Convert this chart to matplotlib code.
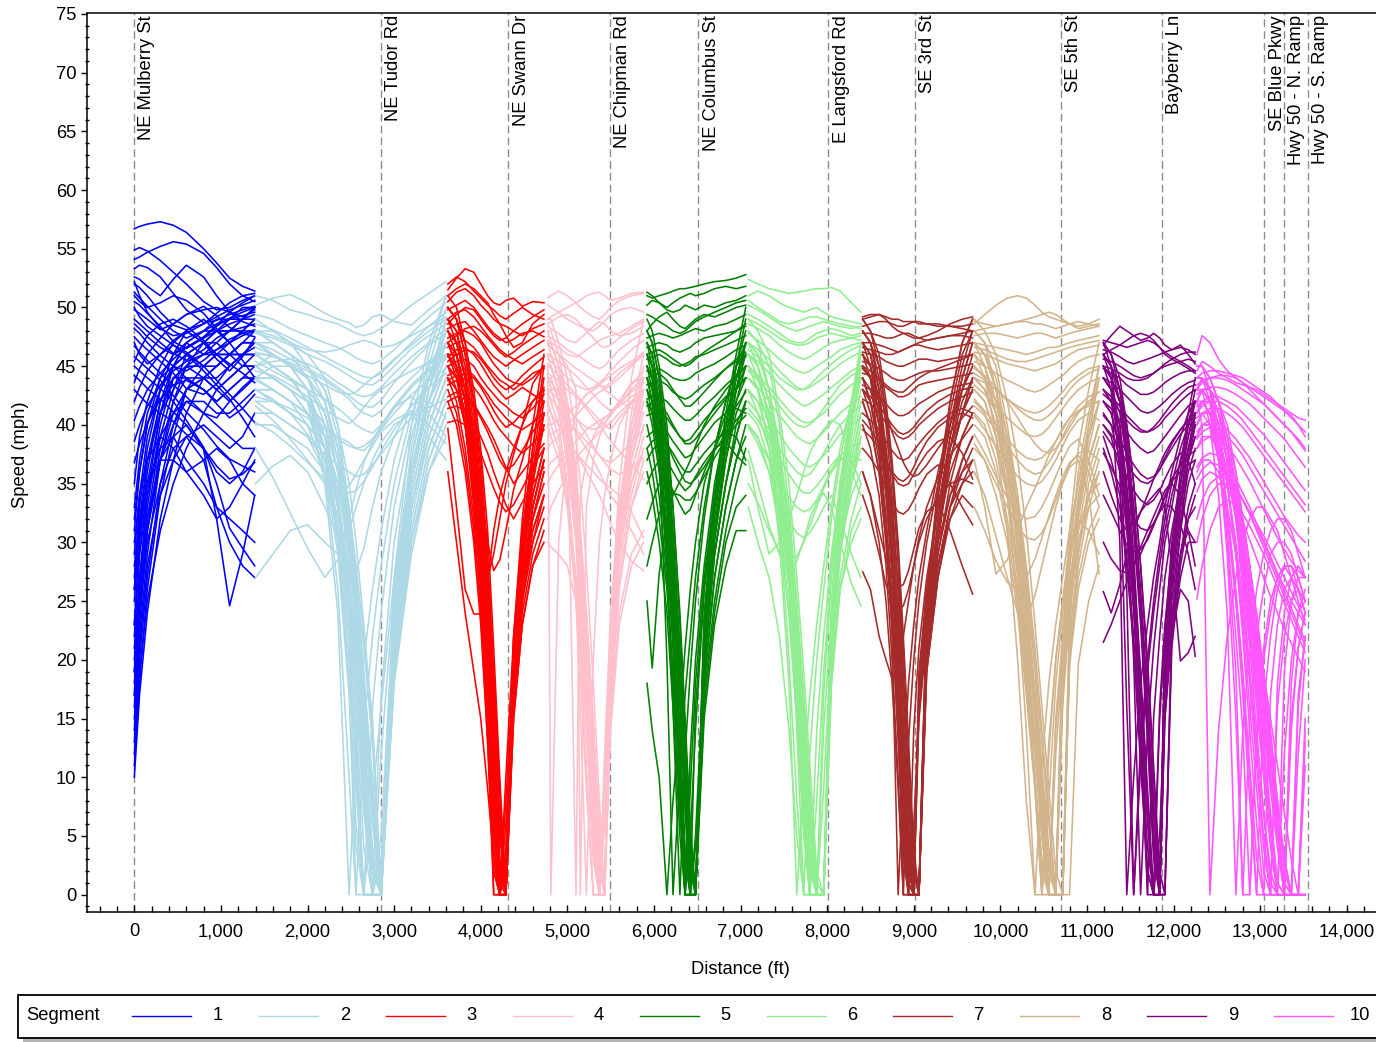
"""Speed profiles along the corridor, one colour per segment"""

import numpy as np
import matplotlib
matplotlib.use("Agg")
from matplotlib import pyplot as plt
from matplotlib.ticker import MultipleLocator, StrMethodFormatter
from matplotlib.lines import Line2D
from matplotlib.patches import Rectangle

plt.rcParams["font.family"] = ["Liberation Sans", "DejaVu Sans"]

# cross streets (ft)
streets = ["NE Mulberry St", "NE Tudor Rd", "NE Swann Dr", "NE Chipman Rd",
           "NE Columbus St", "E Langsford Rd", "SE 3rd St", "SE 5th St",
           "Bayberry Ln", "SE Blue Pkwy", "Hwy 50 - N. Ramp", "Hwy 50 - S. Ramp"]
street_ft = [0, 2845, 4319, 5493, 6513, 8014, 9015, 10697, 11865, 13050, 13270, 13555]

seg_labels = ["1", "2", "3", "4", "5", "6", "7", "8", "9", "10"]
seg_colors = ["#0000ff", "#add8e6", "#ff0000", "#ffc0cb", "#008000",
              "#90ee90", "#a52a2a", "#d2b48c", "#800080", "#ff55ff"]

# segment 1
seg1_ft = [0, 60, 150, 300, 450, 600, 800, 950, 1100, 1250, 1390]
seg1_mph = [
    [10, 17, 24, 32, 37, 41, 44, 45, 46, 46, 47],
    [11, 18, 26, 34, 39, 43, 45, 46, 47, 48, 48],
    [13, 20, 27, 35, 40, 43, 44, 44, 45, 46, 46],
    [14, 22, 29, 37, 42, 45, 47, 48, 49, 49, 50],
    [16, 23, 31, 38, 42, 44, 44, 43, 44, 45, 45],
    [17, 25, 32, 39, 43, 46, 47, 47, 46, 47, 48],
    [19, 26, 33, 40, 44, 45, 44, 43, 42, 43, 44],
    [20, 27, 34, 41, 45, 47, 48, 49, 49, 50, 50],
    [22, 29, 35, 41, 44, 45, 45, 46, 46, 45, 46],
    [23, 30, 36, 42, 45, 47, 48, 48, 47, 48, 49],
    [25, 31, 37, 42, 44, 44, 43, 42, 43, 44, 45],
    [27, 33, 38, 43, 46, 48, 49, 48, 48, 49, 49],
    [29, 34, 39, 43, 45, 46, 45, 45, 46, 47, 47],
    [31, 36, 40, 44, 46, 47, 46, 47, 48, 48, 49],
    [33, 37, 41, 44, 45, 44, 43, 42, 43, 44, 44],
    [35, 39, 42, 45, 47, 48, 47, 46, 45, 46, 47],
    [15, 21, 28, 34, 37, 39, 40, 39, 38, 39, 41],
    [21, 27, 32, 37, 39, 40, 38, 36, 35, 36, 38],
    [26, 31, 35, 38, 39, 37, 35, 33, 32, 31, 30],
    [30, 34, 37, 39, 38, 36, 37, 38, 37, 35, 34],
    [18, 24, 30, 35, 38, 39, 37, 33, 30, 28, 27],
    [12, 19, 25, 31, 35, 38, 41, 43, 44, 45, 45],
    [17, 24, 31, 37, 40, 42, 42, 41, 41, 42, 43],
    [23, 29, 34, 39, 41, 42, 41, 40, 39, 38, 38],
    [19, 25, 31, 37, 41, 43, 44, 45, 46, 47, 47],
    [26, 32, 37, 41, 43, 45, 46, 46, 46, 46, 46],
    [32, 36, 40, 43, 45, 46, 47, 48, 48, 49, 50],
    [28, 32, 35, 37, 37, 36, 34, 32, 33, 35, 37],
    [56.7, 56.9, 57.1, 57.3, 57.0, 56.4, 55.0, 53.8, 52.5, 51.8, 51.4],
    [54.9, 55.1, 54.8, 54.0, 53.0, 52.0, 50.5, 49.8, 50.0, 50.6, 51.0],
    [54.1, 54.3, 54.7, 55.2, 55.6, 55.4, 54.6, 53.4, 52.0, 51.0, 50.5],
    [53.3, 53.6, 53.4, 52.6, 51.2, 49.8, 48.7, 48.9, 49.4, 49.8, 50.1],
    [52.6, 52.4, 51.8, 51.0, 52.4, 53.6, 52.6, 51.0, 49.6, 48.8, 48.4],
    [52.0, 51.7, 51.0, 49.6, 48.5, 48.1, 48.6, 49.5, 50.4, 51.0, 51.2],
    [51.3, 50.8, 50.1, 49.0, 48.0, 47.4, 48.0, 48.6, 49.0, 49.3, 49.6],
    [50.5, 50.2, 49.5, 48.4, 47.1, 46.5, 47.4, 48.4, 49.1, 49.6, 50.0],
    [49.8, 49.5, 49.0, 48.1, 48.6, 49.4, 50.1, 49.3, 48.3, 47.8, 47.5],
    [49.0, 48.6, 48.0, 47.0, 46.1, 45.5, 46.4, 47.4, 48.0, 48.3, 48.6],
    [48.2, 47.8, 47.0, 45.9, 45.0, 44.6, 45.5, 46.4, 47.3, 47.8, 48.1],
    [47.5, 47.0, 46.4, 45.4, 44.4, 43.1, 42.6, 43.5, 45.0, 46.0, 46.6],
    [46.7, 46.2, 45.5, 44.4, 43.4, 42.4, 41.0, 40.6, 42.0, 43.2, 44.1],
    [45.8, 45.4, 44.8, 43.8, 42.5, 41.1, 39.6, 38.2, 37.1, 36.5, 36.0],
    [45.0, 44.6, 44.0, 43.1, 42.0, 40.4, 38.1, 35.0, 31.2, 29.5, 28.0],
    [44.2, 43.8, 43.1, 42.2, 41.1, 40.0, 37.9, 32.0, 24.6, 29.0, 34.0],
    [43.0, 42.5, 41.8, 41.0, 40.3, 39.2, 38.0, 36.5, 35.4, 35.8, 36.8],
    [51.0, 50.5, 50.0, 50.4, 51.0, 50.6, 49.5, 48.2, 47.0, 45.5, 44.0],
    [48.6, 48.2, 47.5, 46.6, 46.0, 46.6, 47.5, 48.5, 49.6, 50.4, 51.0],
    [47.0, 46.0, 45.2, 46.0, 47.2, 48.0, 47.0, 45.6, 44.6, 45.8, 47.4],
    [45.4, 46.4, 47.6, 48.6, 49.0, 48.4, 47.2, 46.0, 45.2, 44.4, 43.6],
    [43.6, 44.8, 46.0, 47.4, 48.6, 49.4, 49.8, 50.0, 49.6, 49.2, 49.8],
    [42.0, 43.2, 44.6, 46.0, 46.8, 46.2, 45.0, 43.8, 42.6, 41.4, 40.2],
    [40.4, 41.6, 43.0, 44.4, 45.6, 46.6, 47.4, 48.0, 48.6, 49.0, 49.4],
    [38.6, 40.0, 41.6, 43.4, 44.6, 45.4, 46.0, 46.4, 47.0, 47.6, 48.0],
    [36.8, 38.4, 40.2, 42.2, 43.4, 43.8, 43.0, 41.8, 40.6, 41.4, 42.6],
    [50.0, 49.2, 48.4, 47.6, 46.8, 46.0, 44.6, 43.4, 42.2, 40.6, 39.0],
    [52.2, 51.0, 49.6, 48.2, 47.6, 47.8, 48.6, 49.2, 49.8, 50.2, 50.6],
]

# segment 2
seg2_ft = [1400, 1600, 1800, 2000, 2200, 2350, 2480, 2560, 2650, 2750, 2850, 3000, 3200, 3400, 3600]
seg2_mph = [
    [51.0, 50.6, 49.8, 49.4, 48.9, 48.6, 48.1, 47.8, 47.6, 47.8, 48.2, 49.0, 50.2, 51.2, 52.2],
    [50.2, 50.8, 51.1, 50.4, 49.5, 49.0, 48.7, 48.3, 48.5, 49.2, 49.4, 48.8, 48.5, 49.8, 51.0],
    [49.4, 49.0, 48.2, 47.6, 47.0, 46.6, 46.1, 45.7, 45.4, 45.2, 45.5, 46.4, 47.8, 49.2, 50.4],
    [48.6, 48.1, 47.4, 46.6, 45.8, 45.2, 44.7, 44.4, 44.1, 44.0, 44.4, 45.5, 47.0, 48.4, 49.6],
    [47.8, 47.4, 46.8, 46.0, 45.4, 44.8, 44.2, 43.8, 43.5, 43.4, 43.9, 45.0, 46.5, 47.6, 48.6],
    [47.0, 46.4, 45.6, 44.8, 44.0, 43.2, 42.5, 42.0, 41.6, 41.5, 42.1, 43.6, 45.3, 46.8, 47.8],
    [46.2, 45.8, 45.3, 44.6, 43.8, 43.0, 42.2, 41.5, 41.0, 40.7, 41.2, 42.5, 44.0, 45.4, 46.6],
    [45.4, 44.6, 43.8, 43.0, 42.2, 41.4, 40.6, 40.0, 39.6, 39.3, 40.0, 41.6, 43.4, 44.8, 45.6],
    [44.6, 44.2, 43.4, 42.4, 41.3, 40.6, 40.1, 40.6, 41.5, 42.4, 43.0, 43.8, 44.6, 45.3, 46.0],
    [43.8, 43.0, 42.0, 40.9, 39.8, 39.0, 38.5, 38.0, 37.8, 38.6, 39.6, 41.0, 42.6, 43.8, 44.8],
    [43.0, 42.2, 41.0, 39.2, 37.5, 36.6, 36.0, 35.6, 35.8, 36.6, 37.5, 39.0, 40.6, 41.5, 42.2],
    [41.6, 40.4, 38.8, 37.0, 35.0, 34.2, 34.8, 35.8, 37.0, 38.2, 39.4, 40.4, 41.2, 40.0, 38.4],
    [38.0, 35.5, 32.5, 29.5, 27.0, 28.5, 32.0, 34.5, 36.8, 38.5, 40.0, 41.5, 42.4, 41.0, 39.0],
    [27.0, 29.0, 31.0, 31.5, 30.0, 29.0, 31.0, 33.0, 35.0, 37.0, 38.5, 40.0, 41.0, 39.0, 37.0],
    [35.0, 36.5, 37.4, 36.0, 33.0, 30.5, 28.0, 27.5, 29.5, 33.0, 36.0, 39.0, 41.8, 42.0, 40.6],
    [48.0, 47.6, 47.0, 46.4, 46.2, 46.4, 46.8, 47.0, 47.2, 47.0, 46.6, 46.8, 47.6, 48.4, 49.2],
    [46.6, 46.0, 45.2, 44.2, 43.4, 42.8, 42.6, 42.8, 43.4, 44.0, 44.6, 45.6, 46.8, 48.0, 49.0],
    [45.0, 45.4, 45.6, 45.2, 44.4, 43.6, 43.0, 42.6, 42.4, 42.6, 43.2, 44.4, 45.8, 47.0, 48.2],
    [42.4, 42.0, 41.4, 40.6, 39.6, 38.8, 38.2, 38.0, 38.2, 38.8, 39.8, 41.4, 43.2, 44.6, 45.8],
    [40.2, 39.4, 38.2, 36.8, 35.4, 34.6, 34.2, 34.4, 35.2, 36.4, 37.8, 39.6, 41.6, 43.2, 44.4],
    [46, 45, 44, 42, 35, 24, 0, 12, 20, 26, 31, 37, 42, 45, 47],
    [44, 44, 43, 41, 37, 30, 18, 0, 14, 22, 28, 35, 41, 44, 46],
    [45, 46, 45, 43, 39, 33, 24, 14, 0, 16, 24, 33, 40, 44, 47],
    [47, 46, 45, 44, 41, 36, 28, 20, 10, 0, 17, 30, 39, 44, 48],
    [43, 43, 42, 41, 39, 35, 29, 23, 15, 6, 0, 22, 34, 41, 45],
    [48, 47, 46, 45, 43, 39, 32, 26, 18, 8, 0, 21, 33, 40, 44],
    [42, 42, 41, 40, 38, 34, 27, 21, 12, 0, 0, 20, 32, 39, 43],
    [46, 45, 45, 44, 42, 38, 31, 24, 14, 3, 0, 23, 36, 43, 49],
    [44, 45, 44, 42, 38, 31, 20, 9, 0, 0, 0, 19, 31, 38, 42],
    [49, 48, 47, 45, 42, 37, 30, 22, 13, 4, 0, 24, 37, 45, 50],
    [45, 44, 43, 42, 40, 36, 31, 25, 17, 7, 0, 20, 30, 37, 41],
    [41, 41, 40, 39, 37, 33, 27, 20, 11, 2, 0, 18, 29, 36, 40],
    [47, 47, 46, 44, 40, 34, 25, 17, 7, 0, 5, 25, 37, 44, 49],
    [44, 43, 42, 41, 38, 33, 26, 19, 9, 0, 0, 22, 35, 42, 46],
    [46, 46, 45, 43, 36, 26, 10, 0, 0, 8, 16, 27, 36, 42, 45],
    [43, 42, 41, 40, 38, 35, 30, 24, 16, 7, 0, 26, 38, 46, 51],
    [48, 48, 47, 46, 44, 40, 33, 27, 19, 9, 0, 23, 35, 42, 47],
    [45, 44, 43, 42, 39, 33, 22, 10, 0, 0, 3, 21, 33, 40, 44],
    [47, 46, 45, 43, 38, 30, 18, 6, 0, 0, 12, 26, 36, 42, 46],
    [45, 44, 43, 42, 40, 36, 30, 25, 18, 10, 0, 25, 36, 43, 48],
    [43, 43, 42, 40, 36, 29, 17, 4, 0, 0, 0, 21, 34, 41, 45],
    [46, 45, 44, 43, 41, 37, 32, 27, 21, 13, 0, 20, 31, 38, 42],
    [42, 41, 40, 39, 36, 31, 22, 12, 0, 0, 0, 18, 30, 37, 41],
    [48, 47, 46, 45, 43, 40, 35, 30, 23, 14, 0, 27, 40, 47, 51],
    [44, 44, 43, 41, 37, 32, 24, 15, 4, 0, 0, 22, 33, 39, 43],
    [46, 45, 44, 42, 39, 34, 27, 19, 8, 0, 0, 24, 36, 43, 47],
    [40, 40, 39, 38, 36, 32, 26, 19, 10, 2, 0, 19, 30, 36, 39],
    [47, 46, 45, 44, 42, 38, 33, 28, 22, 15, 0, 22, 33, 40, 44],
]

# segment 3
seg3_ft = [3620, 3720, 3820, 3920, 4000, 4080, 4150, 4220, 4290, 4380, 4480, 4600, 4730]
seg3_mph = [
    [51.5, 52.5, 53.3, 53.0, 52.0, 51.0, 50.4, 50.2, 50.6, 50.8, 50.1, 50.5, 50.4],
    [52.0, 52.6, 52.2, 51.4, 50.8, 50.2, 49.8, 49.3, 49.0, 49.5, 50.0, 49.4, 49.0],
    [50.5, 51.3, 51.6, 51.0, 50.2, 49.6, 49.0, 48.6, 48.4, 48.0, 47.6, 48.2, 48.6],
    [49.8, 50.2, 50.6, 50.0, 49.2, 48.4, 47.8, 47.4, 47.0, 47.3, 47.8, 48.0, 47.5],
    [49.0, 49.6, 49.8, 49.2, 48.4, 47.6, 47.0, 46.4, 46.0, 45.6, 45.2, 45.8, 46.4],
    [48.2, 48.6, 48.8, 48.0, 47.2, 46.4, 45.8, 45.4, 45.0, 45.5, 46.0, 46.6, 47.2],
    [47.4, 47.8, 48.0, 47.6, 47.0, 46.0, 45.2, 44.6, 44.0, 43.6, 43.4, 44.0, 45.0],
    [46.6, 47.0, 47.2, 46.6, 45.8, 45.0, 44.4, 43.8, 43.5, 43.0, 43.6, 44.4, 44.8],
    [45.8, 46.4, 46.6, 46.0, 45.2, 44.2, 43.4, 42.8, 42.2, 42.6, 43.2, 42.6, 42.0],
    [45.0, 45.4, 45.6, 45.0, 44.0, 43.2, 42.6, 42.0, 41.6, 41.0, 40.6, 41.4, 42.6],
    [44.2, 44.6, 44.8, 44.2, 43.4, 42.6, 41.8, 41.2, 40.6, 40.0, 39.6, 40.2, 41.0],
    [43.4, 43.8, 44.0, 43.2, 42.4, 41.4, 40.4, 39.6, 39.0, 38.2, 37.6, 38.4, 39.6],
    [42.4, 42.8, 42.6, 41.8, 40.8, 39.8, 38.8, 37.6, 36.4, 35.0, 36.0, 37.2, 38.4],
    [41.4, 41.6, 41.2, 40.2, 39.0, 37.6, 36.0, 34.6, 33.2, 32.0, 33.4, 35.0, 36.4],
    [51.0, 51.6, 52.0, 51.6, 51.0, 50.4, 49.4, 48.6, 47.6, 46.6, 47.0, 48.6, 49.4],
    [39.7, 33.0, 26.0, 23.9, 23.9, 26.7, 31.0, 34.0, 36.0, 38.0, 40.0, 42.0, 43.0],
    [47.0, 45.0, 40.0, 34.0, 29.5, 27.0, 29.0, 32.0, 35.0, 37.5, 40.0, 43.5, 45.0],
    [46.0, 44.6, 42.0, 38.0, 34.0, 30.0, 27.6, 28.5, 31.0, 34.5, 37.0, 40.0, 42.0],
    [48.6, 49.4, 50.0, 49.8, 49.0, 48.2, 47.6, 47.2, 47.4, 48.0, 48.6, 49.2, 49.8],
    [47.0, 47.6, 48.2, 48.4, 48.0, 47.4, 46.8, 46.2, 45.8, 46.2, 46.8, 47.4, 48.0],
    [45.4, 46.0, 46.4, 46.2, 45.6, 44.8, 44.0, 43.4, 43.0, 43.4, 44.2, 45.0, 45.8],
    [43.8, 44.2, 44.4, 44.0, 43.2, 42.2, 41.2, 40.4, 39.8, 40.2, 41.0, 42.0, 43.2],
    [42.0, 42.4, 42.2, 41.6, 40.6, 39.4, 38.2, 37.0, 36.2, 36.6, 37.8, 39.4, 40.8],
    [40.2, 40.4, 40.0, 39.0, 37.6, 36.0, 34.6, 33.4, 32.6, 33.2, 34.6, 36.4, 38.0],
    [47, 46, 43, 37, 31, 22, 10, 0, 10, 22, 29, 34, 38],
    [49, 48, 45, 40, 34, 26, 14, 3, 0, 19, 27, 33, 37],
    [45, 44, 41, 35, 28, 17, 0, 0, 8, 20, 27, 32, 35],
    [50, 49, 46, 41, 35, 27, 17, 7, 0, 18, 26, 31, 34],
    [46, 44, 40, 33, 26, 14, 3, 0, 6, 18, 25, 30, 33],
    [48, 47, 44, 38, 32, 23, 11, 0, 0, 20, 28, 35, 40],
    [44, 42, 38, 32, 24, 13, 0, 0, 0, 17, 26, 32, 36],
    [51, 50, 47, 42, 36, 28, 18, 8, 0, 21, 30, 37, 43],
    [47, 45, 42, 36, 29, 19, 6, 0, 4, 19, 27, 33, 37],
    [43, 41, 37, 31, 25, 16, 5, 0, 0, 16, 24, 29, 32],
    [49, 48, 44, 39, 33, 25, 15, 5, 0, 22, 31, 38, 44],
    [46, 46, 43, 38, 31, 21, 9, 0, 0, 18, 28, 34, 38],
    [45, 43, 40, 34, 27, 18, 8, 2, 0, 17, 25, 31, 34],
    [48, 46, 42, 35, 27, 15, 2, 0, 3, 20, 29, 36, 41],
    [36, 30, 24, 19, 15, 9, 3, 0, 0, 15, 23, 28, 31],
    [50, 49, 47, 43, 38, 31, 21, 10, 0, 20, 30, 38, 45],
    [48, 47, 44, 39, 33, 24, 12, 0, 0, 21, 29, 36, 42],
    [46, 45, 42, 37, 30, 20, 7, 0, 2, 18, 26, 32, 36],
    [50, 49, 46, 42, 37, 29, 19, 9, 0, 19, 28, 35, 41],
    [44, 43, 40, 34, 27, 17, 4, 0, 0, 16, 25, 30, 34],
    [47, 46, 43, 38, 32, 24, 13, 3, 0, 21, 30, 36, 40],
    [42, 40, 36, 30, 23, 13, 2, 0, 0, 15, 23, 28, 30],
    [49, 47, 44, 39, 33, 25, 16, 6, 0, 22, 32, 40, 46],
    [45, 44, 41, 36, 29, 20, 10, 1, 0, 18, 27, 33, 37],
]

# segment 4
seg4_ft = [4775, 4810, 4900, 5000, 5100, 5150, 5220, 5300, 5370, 5430, 5500, 5600, 5740, 5880]
seg4_mph = [
    [49.0, 49.2, 49.6, 50.0, 50.4, 50.6, 51.0, 51.2, 51.3, 51.0, 50.6, 50.8, 51.2, 51.3],
    [50.2, 50.0, 49.6, 49.0, 48.6, 48.4, 48.2, 48.0, 48.4, 48.8, 49.4, 49.8, 50.0, 49.6],
    [48.4, 48.2, 47.8, 47.2, 47.0, 47.4, 47.8, 48.4, 48.8, 48.6, 48.0, 47.6, 47.8, 48.4],
    [47.6, 47.4, 47.0, 46.4, 46.0, 45.8, 45.4, 45.0, 44.8, 45.0, 45.6, 46.4, 47.2, 47.8],
    [46.8, 46.6, 46.0, 45.4, 44.8, 44.6, 44.2, 43.8, 43.4, 43.2, 43.6, 44.4, 45.2, 46.0],
    [46.0, 45.8, 45.4, 44.8, 44.2, 43.8, 43.2, 42.6, 42.0, 41.6, 41.2, 41.8, 42.8, 43.6],
    [45.2, 44.8, 44.2, 43.4, 42.6, 42.2, 41.6, 41.0, 40.4, 40.0, 39.6, 40.6, 41.8, 42.6],
    [44.4, 44.2, 43.8, 43.0, 42.4, 42.0, 41.4, 40.6, 40.0, 39.4, 38.6, 37.8, 36.6, 35.4],
    [43.6, 43.2, 42.6, 41.6, 40.6, 40.0, 39.2, 38.2, 37.4, 36.8, 36.2, 35.8, 36.4, 37.2],
    [42.6, 42.2, 41.4, 40.4, 39.4, 38.8, 38.0, 37.0, 36.0, 35.0, 34.0, 33.0, 31.0, 29.0],
    [41.4, 41.0, 40.0, 38.8, 37.6, 37.0, 36.0, 35.0, 34.0, 33.0, 31.6, 30.0, 28.4, 27.6],
    [40.0, 40.0, 40.4, 41.0, 41.6, 42.0, 42.6, 43.0, 43.4, 43.8, 44.2, 44.8, 45.4, 46.2],
    [38.0, 38.4, 39.0, 40.0, 40.8, 41.2, 41.8, 42.4, 42.8, 43.0, 43.4, 44.0, 45.0, 46.0],
    [35.0, 35.6, 36.6, 37.6, 38.6, 39.0, 39.6, 40.0, 40.4, 40.6, 41.0, 42.0, 43.4, 44.6],
    [32.0, 33.0, 34.4, 35.8, 37.0, 37.6, 38.2, 38.8, 39.4, 39.8, 40.2, 41.0, 42.0, 43.0],
    [50.8, 51.0, 51.4, 51.0, 50.4, 50.0, 49.6, 49.2, 49.0, 49.4, 50.0, 50.6, 51.0, 51.2],
    [47.2, 47.0, 46.6, 46.0, 45.8, 46.0, 46.4, 46.8, 47.2, 47.4, 47.6, 47.8, 48.4, 49.0],
    [45.6, 45.4, 44.8, 44.0, 43.4, 43.2, 43.0, 43.2, 43.6, 44.0, 44.6, 45.4, 46.4, 47.2],
    [43.0, 42.8, 42.2, 41.4, 40.6, 40.2, 39.8, 39.6, 39.8, 40.2, 40.8, 41.8, 43.0, 44.0],
    [39.0, 39.2, 39.6, 39.8, 39.6, 39.2, 38.6, 38.0, 37.4, 37.0, 36.8, 37.4, 38.6, 39.6],
    [36.4, 36.8, 37.4, 37.8, 37.6, 37.2, 36.6, 36.0, 35.4, 35.0, 34.6, 34.0, 32.6, 30.4],
    [48.6, 48.8, 49.2, 49.4, 49.0, 48.6, 48.0, 47.4, 46.8, 46.6, 46.8, 47.4, 48.2, 48.8],
    [45.0, 0.0, 30.0, 38.0, 41.0, 42.0, 42.6, 43.0, 43.4, 43.0, 42.6, 42.0, 41.4, 41.0],
    [44.0, 43.6, 42.8, 41.6, 0.0, 34.0, 37.0, 39.0, 40.0, 40.6, 41.0, 41.6, 42.4, 43.0],
    [47.0, 46.6, 46.0, 45.0, 43.0, 0.0, 33.0, 37.0, 39.0, 40.0, 41.0, 42.0, 43.6, 44.0],
    [30.0, 29.6, 29.0, 28.0, 25.0, 16.0, 0.0, 20.0, 30.0, 34.0, 37.0, 40.0, 42.0, 43.0],
    [46, 46, 44, 40, 33, 28, 20, 9, 0, 12, 24, 33, 40, 44],
    [44, 44, 42, 38, 31, 26, 18, 6, 0, 0, 18, 29, 37, 42],
    [48, 48, 46, 42, 36, 31, 24, 14, 4, 0, 20, 31, 39, 44],
    [43, 42, 40, 35, 27, 21, 11, 0, 0, 8, 21, 30, 36, 40],
    [47, 47, 45, 41, 35, 30, 23, 13, 5, 0, 22, 33, 41, 46],
    [45, 45, 43, 39, 32, 27, 19, 8, 0, 6, 19, 28, 34, 38],
    [42, 41, 39, 34, 26, 20, 10, 0, 0, 0, 17, 27, 33, 36],
    [49, 49, 47, 44, 39, 35, 28, 18, 8, 0, 23, 35, 44, 49],
    [44, 43, 41, 37, 30, 24, 15, 3, 0, 10, 22, 30, 35, 38],
    [46, 45, 43, 39, 33, 28, 21, 11, 2, 0, 19, 29, 36, 40],
    [40, 39, 37, 33, 27, 22, 14, 4, 0, 0, 15, 24, 29, 31],
    [47, 46, 44, 40, 34, 29, 22, 12, 3, 0, 21, 32, 39, 43],
    [45, 45, 43, 39, 32, 27, 18, 6, 0, 0, 19, 30, 38, 43],
    [48, 47, 45, 41, 35, 30, 22, 11, 2, 0, 21, 32, 40, 45],
    [43, 43, 41, 37, 30, 24, 15, 3, 0, 0, 16, 26, 33, 37],
    [46, 46, 44, 40, 34, 29, 21, 10, 0, 9, 22, 31, 38, 42],
    [41, 40, 38, 33, 25, 19, 9, 0, 0, 0, 14, 23, 28, 30],
    [47, 47, 45, 42, 36, 31, 24, 15, 6, 0, 20, 30, 37, 41],
    [44, 44, 42, 38, 31, 25, 16, 5, 0, 7, 20, 29, 35, 39],
]

# segment 5
seg5_ft = [5920, 5980, 6060, 6150, 6220, 6300, 6360, 6420, 6480, 6580, 6700, 6830, 6950, 7060]
seg5_mph = [
    [51.0, 50.8, 51.0, 51.2, 51.4, 51.6, 51.6, 51.7, 51.8, 52.0, 52.2, 52.3, 52.5, 52.8],
    [50.2, 50.6, 50.4, 50.0, 50.4, 50.8, 51.0, 51.2, 51.0, 51.2, 51.6, 51.8, 51.6, 51.8],
    [51.3, 51.0, 50.4, 49.8, 49.6, 49.8, 50.2, 50.0, 49.8, 50.2, 50.0, 50.4, 50.6, 51.0],
    [48.0, 48.6, 49.2, 49.6, 49.0, 48.4, 48.2, 48.6, 49.0, 49.4, 49.2, 49.6, 50.0, 50.2],
    [47.4, 47.6, 47.8, 47.6, 47.4, 47.6, 47.8, 48.0, 48.2, 48.0, 48.4, 48.6, 49.0, 49.4],
    [46.6, 46.8, 47.0, 46.8, 46.4, 46.2, 46.4, 46.6, 47.0, 47.4, 47.6, 47.8, 48.0, 48.4],
    [45.6, 45.8, 46.0, 45.6, 45.2, 45.0, 45.2, 45.4, 45.8, 46.0, 46.4, 46.8, 47.2, 47.6],
    [44.6, 44.6, 44.8, 44.4, 44.0, 43.8, 43.8, 44.0, 44.4, 44.8, 45.2, 45.8, 46.4, 46.8],
    [43.4, 43.6, 43.8, 43.4, 42.8, 42.4, 42.2, 42.4, 42.8, 43.4, 44.0, 44.8, 45.4, 45.8],
    [42.2, 42.4, 42.4, 42.0, 41.4, 40.8, 40.4, 40.4, 40.8, 41.6, 42.4, 43.4, 44.2, 45.0],
    [40.8, 41.0, 41.2, 40.6, 39.8, 39.0, 38.6, 38.8, 39.4, 40.4, 41.4, 42.4, 43.2, 44.0],
    [39.0, 39.4, 39.8, 39.4, 38.6, 37.8, 37.2, 37.4, 38.0, 39.0, 40.2, 41.0, 41.4, 41.0],
    [37.0, 37.8, 38.6, 38.4, 37.6, 36.6, 36.0, 36.0, 36.6, 37.6, 38.6, 39.4, 39.0, 37.0],
    [35.0, 36.0, 37.0, 37.0, 36.0, 35.0, 34.4, 34.8, 35.6, 36.8, 38.0, 38.6, 37.4, 36.6],
    [25.0, 19.3, 27.3, 32.0, 34.0, 35.2, 36.0, 37.0, 38.2, 40.0, 41.6, 43.0, 44.0, 45.0],
    [32.0, 33.4, 35.0, 35.4, 34.4, 33.2, 32.4, 32.8, 34.0, 36.0, 38.0, 40.0, 41.6, 42.8],
    [49.4, 49.2, 48.8, 48.4, 48.0, 47.8, 48.0, 48.4, 48.8, 49.2, 49.6, 50.0, 50.4, 50.6],
    [46.0, 46.2, 46.4, 46.0, 45.6, 45.2, 45.0, 45.2, 45.6, 46.2, 46.8, 47.4, 48.0, 48.6],
    [44.0, 44.2, 44.4, 43.8, 43.0, 42.2, 41.6, 41.6, 42.0, 42.8, 43.8, 44.8, 45.6, 46.2],
    [41.6, 41.8, 41.6, 41.0, 40.0, 39.0, 38.4, 38.4, 38.8, 39.8, 41.0, 42.2, 43.2, 44.0],
    [38.0, 38.6, 39.0, 38.4, 37.2, 36.0, 35.2, 35.0, 35.4, 36.4, 37.8, 39.2, 40.4, 41.4],
    [28.0, 30.0, 32.4, 33.8, 34.2, 34.0, 33.6, 33.6, 34.2, 35.6, 37.2, 38.8, 40.0, 40.8],
    [46, 44, 38, 20, 0, 10, 17, 22, 27, 33, 38, 42, 45, 47],
    [44, 42, 37, 28, 16, 0, 12, 19, 25, 32, 38, 42, 45, 46],
    [47, 46, 42, 35, 26, 13, 0, 12, 20, 28, 35, 40, 44, 47],
    [43, 41, 37, 30, 22, 10, 3, 0, 16, 26, 33, 38, 42, 44],
    [48, 47, 44, 38, 31, 21, 12, 3, 0, 22, 31, 38, 43, 47],
    [45, 44, 40, 34, 27, 16, 7, 0, 0, 19, 29, 35, 39, 42],
    [42, 40, 36, 29, 21, 9, 0, 0, 0, 18, 27, 33, 37, 40],
    [49, 48, 45, 40, 33, 24, 15, 6, 0, 24, 34, 41, 46, 50],
    [46, 45, 41, 35, 28, 18, 9, 2, 0, 20, 30, 37, 42, 45],
    [40, 38, 34, 27, 19, 8, 0, 0, 4, 17, 25, 31, 35, 38],
    [44, 43, 40, 34, 27, 17, 8, 0, 0, 21, 31, 37, 41, 43],
    [47, 45, 41, 33, 24, 12, 0, 5, 14, 26, 34, 40, 44, 46],
    [38, 36, 32, 26, 18, 7, 0, 0, 0, 16, 24, 30, 33, 34],
    [45, 44, 41, 36, 29, 20, 11, 4, 0, 23, 33, 40, 45, 49],
    [18, 14, 10, 0, 8, 15, 21, 26, 30, 35, 38, 41, 43, 44],
    [43, 42, 39, 33, 25, 14, 4, 0, 0, 20, 29, 35, 39, 42],
    [45, 43, 39, 31, 22, 8, 0, 9, 18, 27, 34, 39, 43, 45],
    [47, 46, 43, 37, 30, 19, 10, 0, 0, 21, 31, 38, 43, 46],
    [42, 41, 37, 31, 24, 12, 3, 0, 0, 18, 27, 33, 37, 39],
    [48, 47, 44, 39, 33, 23, 14, 5, 0, 23, 33, 40, 45, 48],
    [44, 42, 38, 31, 23, 11, 0, 0, 5, 20, 29, 35, 40, 42],
    [46, 45, 42, 37, 30, 20, 11, 3, 0, 22, 32, 39, 44, 47],
    [36, 34, 30, 24, 16, 5, 0, 0, 0, 15, 23, 28, 31, 31],
]

# segment 6
seg6_ft = [7090, 7200, 7330, 7450, 7560, 7650, 7730, 7800, 7880, 7960, 8050, 8150, 8280, 8390]
seg6_mph = [
    [52.4, 52.0, 51.6, 51.4, 51.2, 51.3, 51.4, 51.5, 51.6, 51.6, 51.7, 51.4, 50.4, 49.6],
    [51.0, 51.4, 51.0, 50.4, 50.0, 49.8, 49.6, 49.8, 50.0, 49.6, 49.2, 49.0, 48.8, 48.6],
    [50.2, 49.8, 49.2, 48.6, 48.2, 48.0, 48.2, 48.4, 48.6, 48.8, 48.6, 48.4, 48.2, 48.4],
    [49.4, 49.0, 48.4, 47.8, 47.2, 47.0, 47.0, 47.4, 47.8, 48.0, 48.2, 48.0, 47.6, 47.8],
    [48.6, 48.2, 47.6, 46.8, 46.2, 45.8, 45.6, 45.8, 46.2, 46.6, 47.0, 47.2, 47.4, 47.6],
    [47.8, 47.2, 46.4, 45.6, 45.0, 44.6, 44.4, 44.6, 45.0, 45.4, 45.8, 46.4, 46.8, 47.0],
    [47.0, 46.4, 45.6, 44.6, 43.8, 43.2, 43.0, 43.2, 43.6, 44.0, 44.6, 45.2, 45.8, 46.2],
    [46.0, 45.4, 44.4, 43.4, 42.6, 42.0, 41.6, 41.8, 42.2, 42.6, 43.2, 43.8, 44.6, 45.0],
    [45.0, 44.2, 43.2, 42.2, 41.2, 40.6, 40.2, 40.2, 40.6, 41.0, 41.8, 42.6, 43.4, 44.0],
    [44.0, 43.2, 42.0, 40.8, 39.8, 39.0, 38.6, 38.4, 38.8, 39.4, 40.2, 41.0, 41.8, 42.4],
    [42.8, 42.0, 40.6, 39.2, 38.0, 37.2, 36.6, 36.4, 36.8, 37.4, 38.2, 39.2, 40.0, 40.6],
    [41.4, 40.4, 38.8, 37.2, 35.8, 34.8, 34.2, 34.2, 34.8, 35.6, 36.6, 37.4, 36.0, 34.0],
    [39.8, 38.4, 36.0, 33.6, 31.8, 30.8, 30.4, 30.8, 31.8, 33.0, 34.0, 32.0, 29.0, 27.0],
    [37.8, 35.0, 31.4, 29.0, 27.5, 28.4, 30.2, 32.0, 33.4, 34.2, 33.0, 30.0, 26.5, 24.6],
    [37.0, 33.0, 29.0, 30.0, 32.0, 34.0, 36.0, 37.6, 38.8, 39.6, 40.4, 40.0, 37.0, 35.0],
    [50.6, 50.0, 49.4, 48.8, 48.6, 48.8, 49.0, 49.2, 49.2, 49.0, 48.8, 48.6, 48.4, 48.2],
    [49.0, 48.6, 48.0, 47.4, 47.0, 46.8, 46.8, 47.0, 47.4, 47.6, 47.8, 47.6, 47.4, 47.2],
    [46.4, 45.8, 45.0, 44.0, 43.4, 43.0, 43.0, 43.4, 44.0, 44.6, 45.2, 45.8, 46.4, 46.8],
    [44.6, 43.8, 42.8, 41.6, 40.6, 40.0, 39.8, 40.0, 40.6, 41.4, 42.4, 43.4, 44.2, 44.6],
    [42.0, 41.0, 39.6, 38.0, 36.8, 36.0, 35.6, 35.8, 36.6, 37.6, 38.8, 40.0, 41.0, 41.6],
    [40.0, 38.8, 37.0, 35.2, 33.8, 33.0, 32.6, 32.8, 33.6, 34.8, 36.2, 37.4, 38.2, 38.4],
    [35.0, 33.4, 31.0, 29.2, 28.4, 28.8, 30.0, 31.4, 33.0, 34.6, 36.0, 37.0, 37.4, 37.0],
    [45, 43, 38, 30, 18, 0, 10, 17, 23, 28, 33, 38, 42, 45],
    [48, 47, 43, 37, 27, 14, 0, 12, 20, 26, 32, 37, 42, 46],
    [44, 43, 40, 34, 26, 17, 7, 0, 14, 22, 29, 35, 40, 44],
    [47, 46, 43, 38, 31, 22, 13, 4, 0, 17, 27, 34, 40, 45],
    [46, 44, 41, 36, 29, 21, 12, 3, 0, 0, 24, 33, 40, 45],
    [43, 42, 39, 34, 27, 19, 10, 0, 0, 0, 21, 30, 37, 41],
    [49, 48, 46, 41, 35, 27, 19, 11, 2, 0, 25, 35, 42, 47],
    [45, 44, 41, 35, 28, 19, 9, 0, 0, 0, 22, 31, 37, 41],
    [42, 41, 38, 33, 26, 17, 8, 2, 0, 0, 20, 29, 35, 38],
    [46, 45, 42, 37, 31, 23, 15, 7, 0, 0, 23, 32, 39, 43],
    [41, 40, 37, 32, 24, 15, 5, 0, 0, 14, 24, 30, 34, 36],
    [44, 43, 40, 35, 29, 21, 13, 5, 0, 0, 19, 27, 32, 35],
    [47, 45, 40, 32, 20, 8, 0, 0, 8, 19, 28, 35, 41, 44],
    [33, 30, 27, 22, 14, 5, 0, 0, 0, 0, 18, 26, 30, 32],
    [46, 45, 42, 36, 28, 18, 8, 0, 0, 0, 23, 33, 40, 45],
    [44, 43, 40, 35, 28, 20, 11, 3, 0, 0, 20, 29, 35, 39],
    [48, 47, 45, 40, 33, 25, 17, 9, 1, 0, 24, 34, 41, 46],
    [43, 41, 38, 32, 24, 15, 6, 0, 0, 9, 22, 30, 36, 39],
    [47, 46, 43, 38, 32, 24, 16, 8, 0, 0, 22, 31, 38, 42],
    [40, 39, 36, 31, 24, 16, 7, 0, 0, 0, 18, 26, 31, 33],
    [45, 44, 41, 36, 30, 22, 14, 6, 0, 0, 21, 30, 36, 40],
]

# segment 7
seg7_ft = [8410, 8500, 8600, 8680, 8750, 8820, 8880, 8940, 9000, 9060, 9150, 9280, 9420, 9560, 9680]
seg7_mph = [
    [49.0, 49.2, 49.4, 49.2, 49.0, 49.0, 48.8, 48.8, 48.8, 48.6, 48.6, 48.4, 48.4, 48.2, 48.0],
    [48.4, 48.6, 48.8, 48.8, 48.6, 48.4, 48.4, 48.6, 48.8, 48.8, 48.6, 48.6, 48.4, 48.4, 48.6],
    [47.8, 47.8, 47.6, 47.4, 47.4, 47.6, 47.8, 47.8, 47.6, 47.4, 47.2, 47.4, 47.6, 47.8, 48.0],
    [47.0, 47.0, 46.8, 46.6, 46.4, 46.2, 46.4, 46.6, 46.8, 46.8, 46.6, 46.4, 46.6, 46.8, 47.0],
    [46.2, 46.0, 45.8, 45.4, 45.2, 45.0, 45.0, 45.2, 45.4, 45.6, 45.6, 45.4, 45.6, 45.8, 46.0],
    [45.4, 45.2, 44.8, 44.4, 44.0, 43.8, 43.8, 44.0, 44.2, 44.4, 44.6, 44.6, 44.8, 45.0, 45.2],
    [44.4, 44.2, 43.8, 43.2, 42.8, 42.4, 42.4, 42.6, 43.0, 43.4, 43.6, 43.8, 44.0, 44.2, 44.4],
    [43.4, 43.0, 42.4, 41.8, 41.2, 40.8, 40.8, 41.0, 41.4, 41.8, 42.2, 42.8, 43.2, 43.4, 43.6],
    [42.2, 41.8, 41.0, 40.2, 39.6, 39.0, 38.8, 39.0, 39.4, 40.0, 40.6, 41.4, 42.0, 42.4, 42.8],
    [41.0, 40.4, 39.6, 38.6, 37.8, 37.2, 37.0, 37.2, 37.8, 38.4, 39.2, 40.2, 41.0, 41.4, 41.0],
    [39.6, 39.0, 38.0, 36.8, 35.8, 35.0, 34.8, 35.0, 35.8, 36.6, 37.6, 38.6, 39.0, 37.6, 35.4],
    [38.0, 37.2, 36.0, 34.6, 33.4, 32.6, 32.4, 32.8, 33.6, 34.6, 35.8, 36.6, 35.0, 33.0, 31.5],
    [27.5, 26.0, 22.0, 20.0, 18.4, 19.0, 22.0, 25.0, 28.0, 30.4, 33.0, 35.6, 37.4, 38.8, 40.0],
    [36.0, 34.0, 31.0, 28.6, 27.0, 26.2, 26.4, 27.6, 29.4, 31.2, 32.6, 33.4, 31.0, 28.0, 25.6],
    [49.2, 49.4, 49.4, 49.0, 48.4, 48.0, 47.8, 47.6, 47.4, 47.4, 47.6, 48.0, 48.6, 49.0, 49.2],
    [44.8, 44.0, 42.6, 41.0, 39.4, 38.0, 36.8, 36.0, 35.6, 35.8, 36.6, 38.0, 39.4, 40.6, 41.6],
    [46.6, 46.4, 46.2, 46.0, 46.0, 46.2, 46.4, 46.6, 46.8, 47.0, 47.2, 47.4, 47.6, 47.6, 47.4],
    [45.0, 44.6, 44.0, 43.4, 43.0, 42.8, 42.8, 43.2, 43.6, 44.0, 44.4, 44.8, 45.2, 45.6, 46.0],
    [43.0, 42.4, 41.6, 40.8, 40.0, 39.4, 39.2, 39.4, 39.8, 40.4, 41.2, 42.0, 42.6, 43.0, 43.2],
    [40.4, 39.6, 38.4, 37.0, 36.0, 35.4, 35.2, 35.6, 36.4, 37.4, 38.6, 39.8, 40.6, 41.0, 40.6],
    [34.0, 32.0, 29.0, 26.4, 24.8, 24.2, 24.6, 26.0, 28.0, 30.0, 32.0, 33.8, 35.0, 35.4, 35.0],
    [46, 44, 38, 31, 22, 0, 10, 18, 23, 27, 31, 36, 40, 43, 45],
    [48, 47, 43, 37, 29, 17, 0, 13, 20, 25, 30, 35, 40, 44, 47],
    [44, 42, 38, 32, 25, 16, 7, 0, 14, 21, 27, 33, 38, 41, 43],
    [47, 46, 43, 38, 32, 24, 15, 6, 0, 19, 26, 33, 39, 43, 46],
    [45, 44, 41, 36, 30, 22, 13, 4, 0, 0, 22, 31, 38, 42, 44],
    [43, 41, 37, 31, 24, 15, 6, 0, 0, 0, 20, 29, 35, 39, 41],
    [49, 48, 46, 42, 37, 30, 22, 13, 4, 0, 24, 34, 41, 46, 48],
    [46, 45, 42, 37, 30, 21, 11, 1, 0, 0, 21, 30, 37, 41, 44],
    [42, 40, 36, 30, 23, 14, 4, 0, 0, 17, 24, 30, 34, 37, 39],
    [47, 45, 41, 35, 28, 19, 10, 2, 0, 0, 23, 32, 39, 44, 47],
    [44, 43, 40, 35, 29, 21, 12, 4, 0, 18, 25, 31, 36, 39, 41],
    [40, 38, 34, 28, 20, 10, 0, 0, 0, 0, 19, 27, 32, 35, 37],
    [45, 44, 42, 38, 33, 26, 18, 9, 2, 0, 20, 28, 33, 36, 38],
    [36, 34, 30, 25, 18, 9, 0, 0, 6, 15, 22, 28, 32, 34, 33],
    [48, 47, 45, 41, 36, 29, 21, 12, 3, 0, 25, 35, 42, 47, 49],
    [47, 46, 42, 36, 28, 17, 7, 0, 0, 16, 24, 31, 37, 41, 44],
    [45, 44, 40, 34, 27, 18, 9, 1, 0, 0, 22, 31, 37, 41, 43],
    [48, 47, 44, 40, 34, 26, 17, 8, 0, 18, 26, 34, 40, 45, 48],
    [44, 42, 38, 32, 25, 15, 5, 0, 0, 0, 19, 27, 33, 37, 39],
    [46, 45, 42, 37, 31, 23, 14, 5, 0, 0, 23, 32, 38, 43, 45],
    [42, 40, 36, 30, 23, 13, 3, 0, 0, 15, 23, 29, 34, 36, 37],
    [49, 48, 45, 41, 36, 28, 19, 10, 2, 0, 24, 34, 42, 47, 49],
    [43, 42, 39, 34, 28, 20, 11, 3, 0, 0, 20, 28, 33, 35, 36],
]

# segment 8
seg8_ft = [9700, 9820, 9950, 10080, 10200, 10300, 10400, 10480, 10560, 10640, 10720, 10800, 10900, 11020, 11140]
seg8_mph = [
    [48.6, 49.4, 50.2, 50.8, 51.0, 50.8, 50.2, 49.6, 49.2, 49.0, 48.8, 48.6, 48.4, 48.6, 49.0],
    [48.0, 48.2, 48.4, 48.6, 48.8, 49.0, 49.2, 49.4, 49.6, 49.4, 49.0, 48.6, 48.2, 48.4, 48.6],
    [47.6, 47.8, 47.8, 47.6, 47.4, 47.6, 47.8, 47.8, 47.6, 47.4, 47.6, 47.8, 48.0, 48.2, 48.4],
    [47.0, 46.8, 46.6, 46.4, 46.2, 46.0, 46.2, 46.4, 46.6, 46.6, 46.8, 47.0, 47.2, 47.4, 47.6],
    [46.2, 46.0, 45.6, 45.2, 45.0, 44.8, 44.6, 44.8, 45.0, 45.2, 45.6, 46.0, 46.4, 46.6, 46.8],
    [45.4, 45.0, 44.4, 43.8, 43.4, 43.0, 42.8, 43.0, 43.4, 43.8, 44.2, 44.8, 45.4, 45.8, 46.0],
    [44.4, 43.8, 43.0, 42.2, 41.6, 41.2, 41.0, 41.2, 41.6, 42.2, 42.8, 43.6, 44.2, 44.8, 45.0],
    [43.4, 42.6, 41.6, 40.6, 39.8, 39.2, 39.0, 39.2, 39.8, 40.6, 41.4, 42.2, 43.0, 43.6, 44.0],
    [42.2, 41.2, 40.0, 38.8, 37.8, 37.2, 37.0, 37.2, 37.8, 38.6, 39.6, 40.6, 41.6, 42.4, 42.8],
    [40.8, 39.6, 38.2, 36.8, 35.6, 35.0, 34.8, 35.2, 36.0, 37.0, 38.2, 39.4, 40.4, 41.0, 40.4],
    [39.2, 37.6, 35.6, 33.8, 32.6, 32.0, 32.2, 33.0, 34.2, 35.6, 37.0, 38.2, 38.8, 37.0, 34.0],
    [37.0, 33.0, 27.3, 28.5, 31.0, 33.0, 34.6, 36.0, 37.4, 38.6, 39.8, 40.6, 41.2, 41.6, 42.0],
    [36.0, 34.0, 30.5, 27.0, 24.0, 23.5, 25.5, 28.0, 30.5, 33.0, 35.0, 36.4, 37.0, 34.0, 27.3],
    [48.8, 48.6, 48.4, 48.6, 48.8, 48.8, 48.6, 48.6, 48.4, 48.2, 48.4, 48.6, 48.8, 48.6, 48.4],
    [44.8, 44.2, 43.2, 42.0, 40.6, 39.4, 38.4, 37.8, 37.6, 38.0, 38.8, 39.8, 41.0, 42.0, 42.8],
    [46.6, 46.4, 46.0, 45.6, 45.4, 45.4, 45.6, 45.8, 46.0, 46.2, 46.4, 46.6, 46.8, 47.0, 47.2],
    [44.0, 43.6, 43.0, 42.2, 41.4, 40.8, 40.4, 40.4, 40.8, 41.4, 42.2, 43.0, 43.8, 44.4, 44.8],
    [41.6, 40.8, 39.6, 38.2, 37.0, 36.2, 35.8, 36.0, 36.8, 37.8, 39.0, 40.2, 41.2, 41.8, 42.0],
    [38.4, 37.0, 35.0, 33.0, 31.4, 30.4, 30.2, 30.8, 32.0, 33.6, 35.2, 36.6, 37.6, 37.8, 37.0],
    [33.0, 31.0, 28.4, 26.6, 26.0, 27.0, 28.6, 30.4, 32.2, 34.0, 35.6, 36.8, 37.4, 36.0, 33.0],
    [46, 44, 39, 31, 20, 8, 0, 11, 18, 23, 27, 31, 35, 39, 42],
    [48, 47, 43, 37, 29, 20, 10, 0, 13, 20, 25, 30, 35, 40, 44],
    [44, 43, 40, 35, 28, 20, 12, 5, 0, 15, 22, 28, 33, 37, 40],
    [47, 46, 44, 39, 33, 26, 17, 9, 2, 0, 19, 26, 33, 38, 42],
    [45, 44, 41, 36, 30, 23, 15, 8, 0, 0, 17, 25, 31, 36, 39],
    [43, 42, 39, 34, 28, 21, 13, 6, 0, 0, 0, 22, 29, 34, 37],
    [49, 48, 46, 42, 37, 31, 23, 16, 9, 2, 0, 23, 32, 39, 44],
    [46, 45, 42, 37, 31, 24, 16, 8, 0, 0, 0, 20, 28, 33, 36],
    [42, 41, 38, 34, 28, 21, 13, 5, 0, 0, 16, 24, 30, 34, 36],
    [47, 46, 43, 39, 34, 28, 21, 14, 7, 0, 0, 24, 33, 40, 45],
    [44, 43, 40, 36, 30, 23, 15, 7, 0, 0, 0, 0, 19.6, 25, 28],
    [40, 39, 36, 31, 25, 18, 10, 3, 0, 14, 21, 27, 31, 34, 35],
    [45, 44, 42, 38, 33, 27, 20, 13, 6, 0, 21, 29, 36, 41, 45],
    [38, 37, 34, 30, 24, 17, 9, 0, 8, 18, 24, 29, 32, 31, 29],
    [47, 46, 43, 38, 32, 25, 17, 9, 0, 0, 0, 19.6, 26, 30, 32],
    [47, 45, 41, 34, 25, 14, 0, 0, 12, 20, 25, 29, 33, 37, 40],
    [45, 44, 41, 36, 30, 22, 13, 5, 0, 0, 18, 26, 32, 37, 40],
    [48, 47, 45, 40, 34, 27, 19, 11, 4, 0, 22, 31, 38, 43, 47],
    [43, 42, 39, 34, 27, 19, 10, 2, 0, 0, 0, 20, 27, 31, 33],
    [46, 45, 42, 38, 32, 25, 17, 10, 3, 0, 20, 28, 34, 39, 42],
    [41, 40, 37, 32, 26, 18, 9, 0, 0, 12, 20, 26, 30, 33, 34],
    [44, 43, 41, 37, 31, 24, 16, 8, 0, 0, 0, 21, 29, 35, 38],
]

# segment 9
seg9_ft = [11190, 11280, 11380, 11460, 11540, 11620, 11700, 11770, 11840, 11900, 11980, 12080, 12170, 12250]
seg9_mph = [
    [46.8, 47.6, 48.4, 48.0, 47.6, 47.2, 47.4, 47.8, 47.4, 46.8, 46.4, 46.8, 46.0, 45.2],
    [47.2, 47.0, 46.8, 46.6, 46.8, 47.0, 47.2, 47.0, 46.6, 46.2, 45.8, 45.4, 45.0, 44.6],
    [46.4, 46.2, 45.8, 45.4, 45.2, 45.4, 45.6, 45.8, 46.0, 46.2, 46.4, 46.6, 46.4, 46.0],
    [45.6, 45.4, 45.0, 44.6, 44.2, 44.0, 44.2, 44.4, 44.8, 45.0, 45.2, 45.4, 45.6, 45.4],
    [44.8, 44.4, 44.0, 43.4, 43.0, 42.6, 42.6, 42.8, 43.2, 43.6, 44.0, 44.4, 44.6, 44.6],
    [44.0, 43.6, 43.0, 42.4, 41.8, 41.2, 41.0, 41.2, 41.6, 42.0, 42.6, 43.2, 43.6, 43.8],
    [43.0, 42.4, 41.6, 40.8, 40.2, 39.6, 39.4, 39.6, 40.0, 40.6, 41.2, 42.0, 42.6, 43.0],
    [42.0, 41.4, 40.4, 39.4, 38.6, 38.0, 37.6, 37.8, 38.4, 39.0, 39.8, 40.8, 41.6, 42.0],
    [40.8, 40.0, 38.8, 37.6, 36.6, 35.8, 35.4, 35.6, 36.2, 37.0, 38.0, 39.2, 40.0, 40.2],
    [39.4, 38.4, 37.0, 35.6, 34.4, 33.6, 33.2, 33.6, 34.4, 35.4, 36.6, 37.6, 37.0, 35.0],
    [37.6, 36.4, 34.8, 33.2, 32.0, 31.2, 31.0, 31.6, 32.6, 33.8, 35.0, 34.0, 31.0, 28.0],
    [25.8, 24.0, 26.4, 29.0, 31.0, 32.6, 34.0, 35.4, 36.6, 37.6, 38.6, 39.6, 40.4, 41.0],
    [21.5, 23.0, 25.0, 26.6, 28.0, 29.6, 31.0, 32.2, 33.4, 34.4, 35.2, 36.0, 36.6, 37.0],
    [36.0, 34.0, 32.0, 31.0, 31.6, 32.6, 33.4, 34.0, 34.6, 33.0, 28.0, 19.9, 20.6, 22.0],
    [46.0, 46.4, 46.8, 47.2, 47.6, 47.8, 47.6, 47.2, 46.6, 46.0, 45.6, 45.2, 44.8, 44.4],
    [45.0, 44.8, 44.4, 44.0, 43.8, 43.8, 44.0, 44.4, 44.8, 45.2, 45.6, 46.0, 46.2, 46.2],
    [42.6, 42.0, 41.2, 40.4, 39.8, 39.4, 39.4, 39.8, 40.4, 41.0, 41.8, 42.6, 43.2, 43.4],
    [40.0, 39.2, 38.0, 36.8, 35.8, 35.2, 35.0, 35.4, 36.2, 37.2, 38.4, 39.6, 40.4, 40.6],
    [34.0, 32.6, 31.0, 29.8, 29.2, 29.4, 30.2, 31.4, 32.8, 34.0, 35.4, 36.6, 37.4, 37.8],
    [30.0, 28.6, 27.6, 27.4, 28.0, 29.0, 30.4, 31.6, 32.6, 33.2, 33.0, 31.6, 29.0, 26.0],
    [45, 43, 30, 0, 10, 18, 23, 27, 30, 33, 36, 39, 41, 42],
    [47, 45, 38, 26, 0, 13, 20, 25, 29, 32, 35, 38, 40, 42],
    [44, 43, 39, 32, 20, 0, 14, 21, 26, 30, 33, 37, 39, 41],
    [46, 45, 42, 37, 29, 18, 0, 15, 22, 27, 31, 35, 38, 40],
    [43, 42, 40, 35, 28, 19, 9, 0, 16, 23, 29, 34, 37, 39],
    [45, 44, 42, 38, 32, 24, 14, 5, 0, 20, 27, 33, 37, 40],
    [42, 41, 38, 33, 26, 17, 7, 0, 0, 17, 25, 31, 35, 37],
    [47, 46, 44, 40, 35, 28, 19, 10, 0, 22, 30, 36, 41, 44],
    [44, 43, 41, 37, 31, 23, 13, 3, 0, 18, 26, 32, 36, 38],
    [40, 39, 36, 31, 24, 14, 4, 0, 0, 15, 23, 29, 32, 33],
    [46, 45, 43, 39, 33, 26, 17, 8, 0, 21, 29, 35, 39, 42],
    [43, 42, 39, 34, 27, 18, 8, 0, 0, 0, 22, 29, 33, 35],
    [38, 36, 33, 28, 21, 11, 2, 0, 5, 17, 24, 29, 31, 30],
    [45, 44, 42, 38, 32, 25, 16, 7, 0, 19, 28, 34, 38, 41],
    [41, 40, 37, 32, 25, 16, 6, 0, 0, 16, 22, 26, 25, 20.3],
    [46, 44, 36, 16, 0, 11, 19, 24, 28, 31, 34, 37, 40, 42],
    [44, 43, 40, 34, 25, 13, 0, 0, 15, 22, 28, 33, 37, 39],
    [47, 46, 43, 39, 33, 25, 15, 5, 0, 21, 29, 35, 40, 43],
    [42, 41, 38, 33, 26, 17, 7, 0, 0, 0, 21, 28, 32, 34],
    [45, 44, 42, 38, 32, 24, 14, 4, 0, 19, 27, 33, 37, 40],
    [39, 37, 34, 29, 22, 12, 2, 0, 0, 15, 22, 27, 30, 30],
    [46, 45, 43, 40, 35, 28, 20, 11, 2, 0, 23, 31, 37, 41],
]

# segment 10
seg10_ft = [12270, 12330, 12420, 12520, 12620, 12720, 12800, 12880, 12960, 13040, 13120, 13200, 13280, 13360, 13440, 13520]
seg10_mph = [
    [46.0, 47.6, 47.0, 45.6, 44.6, 44.0, 43.6, 43.2, 42.8, 42.4, 42.0, 41.6, 41.2, 40.8, 40.0, 39.0],
    [44.0, 44.4, 44.6, 44.6, 44.4, 44.2, 44.0, 43.6, 43.2, 42.8, 42.4, 41.8, 41.2, 40.6, 40.0, 39.4],
    [43.4, 43.8, 44.0, 44.0, 43.8, 43.4, 43.0, 42.6, 42.2, 41.8, 41.2, 40.6, 40.0, 39.4, 38.6, 37.8],
    [42.6, 43.0, 43.2, 43.2, 43.0, 42.6, 42.2, 41.8, 41.2, 40.6, 40.0, 39.4, 38.8, 38.0, 37.2, 36.4],
    [41.6, 42.0, 42.4, 42.4, 42.0, 41.6, 41.0, 40.4, 39.8, 39.2, 38.4, 37.6, 36.8, 36.0, 35.2, 34.4],
    [40.6, 41.0, 41.4, 41.4, 41.0, 40.4, 39.8, 39.0, 38.2, 37.4, 36.6, 35.8, 35.0, 34.2, 33.4, 32.6],
    [39.4, 40.0, 40.4, 40.2, 39.6, 38.8, 38.0, 37.2, 36.2, 35.2, 34.2, 33.2, 32.2, 31.4, 30.6, 30.0],
    [38.0, 38.6, 39.0, 38.8, 38.2, 37.2, 36.2, 35.2, 34.0, 32.8, 31.6, 30.4, 29.4, 28.4, 27.6, 27.0],
    [36.4, 37.2, 37.6, 37.4, 36.6, 35.4, 34.2, 33.0, 31.6, 30.2, 28.8, 27.4, 26.2, 25.0, 24.0, 23.0],
    [34.3, 35.4, 36.0, 35.6, 34.6, 33.2, 31.8, 30.2, 28.6, 27.0, 25.4, 24.0, 22.6, 21.4, 20.2, 19.0],
    [25.2, 28.0, 31.0, 33.0, 33.6, 33.2, 32.4, 31.4, 30.2, 29.0, 27.6, 26.2, 24.8, 23.4, 22.0, 20.6],
    [30.0, 32.0, 34.0, 35.0, 35.0, 34.4, 33.6, 32.6, 31.6, 30.6, 29.4, 28.2, 27.0, 25.8, 24.6, 23.4],
    [44.6, 45.4, 45.0, 44.4, 44.0, 43.6, 43.4, 43.2, 43.0, 42.6, 42.2, 41.8, 41.4, 41.0, 40.6, 40.4],
    [43.0, 43.6, 44.0, 44.2, 44.2, 44.0, 43.6, 43.0, 42.4, 41.8, 41.2, 40.6, 40.0, 39.4, 38.8, 38.0],
    [41.0, 41.6, 42.0, 42.0, 41.6, 41.0, 40.4, 39.6, 38.8, 38.0, 37.2, 36.4, 35.6, 34.8, 34.0, 33.2],
    [38.8, 39.4, 39.8, 39.6, 39.0, 38.2, 37.4, 36.4, 35.4, 34.4, 33.4, 32.4, 31.4, 30.4, 29.4, 28.4],
    [35.4, 36.2, 36.8, 36.6, 35.8, 34.8, 33.6, 32.4, 31.0, 29.6, 28.2, 26.8, 25.4, 24.0, 22.6, 21.2],
    [32.0, 33.6, 35.0, 35.6, 35.4, 34.6, 33.6, 32.4, 31.2, 30.0, 28.6, 27.2, 25.8, 24.4, 23.0, 21.6],
    [42, 40, 0, 14, 22, 27, 30, 32, 33, 33, 32, 31, 29, 27, 25, 23],
    [43, 43, 40, 34, 24, 0, 14, 21, 26, 29, 31, 32, 32, 31, 29, 27],
    [44, 44, 42, 37, 30, 19, 0, 15, 22, 26, 29, 30, 30, 29, 27, 25],
    [41, 42, 41, 37, 31, 22, 14, 0, 13, 20, 24, 27, 28, 28, 26, 24],
    [45, 45, 43, 39, 33, 25, 17, 8, 0, 16, 22, 26, 28, 28, 27, 25],
    [40, 41, 40, 37, 32, 25, 18, 10, 0, 0, 17, 23, 26, 27, 26, 24],
    [43, 44, 43, 40, 35, 29, 22, 14, 6, 0, 0, 18, 24, 27, 28, 27],
    [42, 43, 42, 39, 35, 29, 23, 16, 9, 2, 0, 0, 19, 25, 27, 27],
    [44, 44, 43, 41, 37, 32, 26, 19, 12, 5, 0, 0, 0, 18, 24, 26],
    [39, 40, 40, 38, 35, 30, 25, 19, 13, 7, 2, 0, 0, 14, 21, 24],
    [43, 43, 42, 40, 37, 33, 28, 23, 17, 11, 5, 0, 0, 0, 16, 22],
    [41, 42, 41, 39, 36, 32, 28, 23, 18, 12, 6, 1, 0, 0, 0, 15],
    [44, 44, 43, 42, 39, 35, 31, 26, 21, 16, 10, 5, 1, 0, 0, 0],
    [40, 41, 41, 39, 36, 33, 29, 25, 20, 15, 10, 5, 0, 0, 0, 0],
    [42, 43, 42, 41, 38, 35, 32, 28, 24, 19, 14, 8, 3, 0, 0, 0],
    [38, 39, 39, 38, 36, 33, 30, 26, 22, 18, 13, 7, 2, 0, 0, 0],
    [45, 45, 44, 42, 39, 36, 32, 28, 23, 18, 12, 6, 0, 0, 12, 20],
    [36, 37, 37, 36, 33, 29, 24, 18, 11, 4, 0, 0, 12, 20, 24, 25],
    [43, 43, 42, 40, 37, 34, 30, 26, 22, 17, 12, 7, 3, 0, 0, 11],
    [44, 44, 43, 38, 29, 15, 0, 0, 14, 21, 25, 27, 28, 27, 26, 24],
    [42, 42, 41, 38, 33, 26, 19, 11, 3, 0, 0, 16, 22, 25, 26, 25],
    [45, 45, 44, 42, 38, 33, 27, 21, 14, 7, 1, 0, 0, 15, 21, 24],
    [40, 41, 41, 40, 37, 34, 30, 26, 21, 16, 11, 6, 1, 0, 0, 0],
    [43, 44, 43, 42, 40, 36, 32, 28, 23, 18, 13, 8, 3, 0, 0, 0],
    [41, 42, 42, 40, 37, 33, 29, 24, 19, 14, 9, 4, 0, 0, 0, 13],
    [44, 44, 43, 41, 38, 34, 30, 25, 19, 13, 7, 1, 0, 0, 17, 22],
    [39, 40, 40, 39, 36, 32, 27, 22, 16, 10, 4, 0, 0, 0, 0, 14],
    [42, 43, 43, 41, 38, 35, 31, 27, 23, 19, 15, 11, 7, 3, 0, 0],
]

segments = [(seg1_ft, seg1_mph), (seg2_ft, seg2_mph), (seg3_ft, seg3_mph),
            (seg4_ft, seg4_mph), (seg5_ft, seg5_mph), (seg6_ft, seg6_mph),
            (seg7_ft, seg7_mph), (seg8_ft, seg8_mph), (seg9_ft, seg9_mph),
            (seg10_ft, seg10_mph)]

W, H = 1376, 1042
FS = 13.2


def fx(px):
    return px / W


def fy(py):
    return 1 - py / H


fig = plt.figure(figsize=(W / 100, H / 100), dpi=100, facecolor="white")
ax = fig.add_axes([fx(86.7), fy(912.3), 1 - fx(86.7), fy(12.7) - fy(912.3)])

# speed traces
for (ft, mph), col in zip(segments, seg_colors):
    x = np.array(ft, dtype=float)
    for row in mph:
        ax.plot(x, np.array(row, dtype=float), color=col, lw=1.15, zorder=2)

# cross streets
for name, d in zip(streets, street_ft):
    ax.axvline(d, color="#8c8c8c", lw=1.0, ls=(0, (5.5, 3)), zorder=1)
    ax.annotate(name, xy=(d, 1), xycoords=("data", "axes fraction"),
                xytext=(3.0, -1.6), textcoords="offset points",
                rotation=90, ha="left", va="top", fontsize=FS)

ax.set_xlim(-550, 14338)
ax.set_ylim(-1.5, 75.1)
ax.xaxis.set_major_locator(MultipleLocator(1000))
ax.xaxis.set_minor_locator(MultipleLocator(200))
ax.xaxis.set_major_formatter(StrMethodFormatter("{x:,.0f}"))
ax.yaxis.set_major_locator(MultipleLocator(5))
ax.yaxis.set_minor_locator(MultipleLocator(1))
ax.tick_params(axis="x", which="major", direction="in", length=5.3, width=1.0,
               pad=8, labelsize=FS)
ax.tick_params(axis="x", which="minor", direction="in", length=4.2, width=1.0)
ax.tick_params(axis="y", which="major", direction="out", length=4.1, width=1.0,
               pad=3.4, labelsize=FS)
ax.tick_params(axis="y", which="minor", direction="inout", length=3.0, width=1.0)
ax.spines["right"].set_visible(False)
for s in ["left", "bottom", "top"]:
    ax.spines[s].set_linewidth(1.1)

fig.text(fx(21), fy(455), "Speed (mph)", rotation=90, ha="center", va="center", fontsize=FS)
fig.text(fx(740), fy(969), "Distance (ft)", ha="center", va="center", fontsize=FS)

# legend drawn by hand: title on the left, entries in one row
fig.add_artist(Rectangle((fx(23), fy(1043)), fx(1400) - fx(18), fy(995) - fy(1038),
                         transform=fig.transFigure, facecolor="#b4b4b4",
                         edgecolor="none", zorder=0))
fig.add_artist(Rectangle((fx(18), fy(1038)), fx(1400) - fx(18), fy(995) - fy(1038),
                         transform=fig.transFigure, facecolor="white",
                         edgecolor="black", lw=1.3, zorder=1))
fig.text(fx(26), fy(1016), "Segment", ha="left", va="center", fontsize=FS, zorder=2)
for i, (lab, col) in enumerate(zip(seg_labels, seg_colors)):
    x0 = 132 + i * 126.9
    fig.add_artist(Line2D([fx(x0), fx(x0 + 59)], [fy(1016), fy(1016)],
                          transform=fig.transFigure, color=col, lw=1.0, zorder=2))
    fig.text(fx(x0 + 86), fy(1016), lab, ha="center", va="center", fontsize=FS, zorder=2)

fig.savefig("out.png", dpi=100, facecolor="white")
